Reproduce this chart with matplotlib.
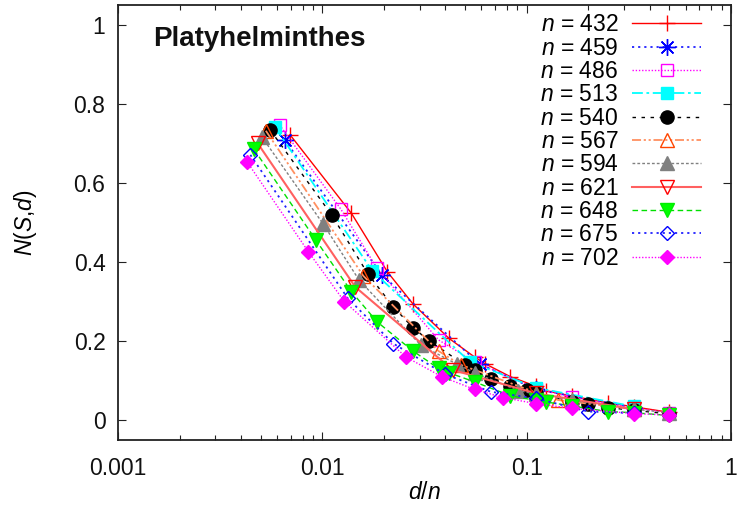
import matplotlib
matplotlib.use("Agg")
import matplotlib.pyplot as plt
from matplotlib.ticker import FixedLocator, FuncFormatter, NullFormatter, LogLocator

plt.rcParams['font.family'] = ['Liberation Sans', 'DejaVu Sans']
plt.rcParams['mathtext.fontset'] = 'custom'
plt.rcParams['mathtext.it'] = 'Liberation Sans:italic'
plt.rcParams['mathtext.rm'] = 'Liberation Sans'

# ---- data ----
n_values = [432, 459, 486, 513, 540, 567, 594, 621, 648, 675, 702]

d_432 = [3, 6, 9, 12, 18, 24, 27, 36, 48, 54, 72, 108, 144, 216]
N_432 = [0.722, 0.523, 0.375, 0.294, 0.207, 0.160, 0.143, 0.110, 0.086, 0.074, 0.061, 0.044, 0.034, 0.020]

d_459 = [3, 9, 27, 51, 153]
N_459 = [0.709, 0.367, 0.142, 0.078, 0.032]

d_486 = [3, 6, 9, 18, 27, 54, 81, 162, 243]
N_486 = [0.747, 0.533, 0.384, 0.203, 0.148, 0.080, 0.058, 0.031, 0.019]

d_513 = [3, 9, 27, 57, 171]
N_513 = [0.742, 0.378, 0.148, 0.082, 0.035]

d_540 = [3, 6, 9, 12, 15, 18, 27, 30, 36, 45, 54, 60, 90, 108, 135, 180, 270]
N_540 = [0.734, 0.519, 0.371, 0.287, 0.234, 0.201, 0.139, 0.127, 0.104, 0.086, 0.076, 0.068, 0.046, 0.040, 0.032, 0.025, 0.016]

d_567 = [3, 9, 21, 27, 63, 81, 189]
N_567 = [0.732, 0.365, 0.175, 0.140, 0.070, 0.051, 0.028]

d_594 = [3, 6, 9, 18, 27, 33, 54, 66, 99, 198, 297]
N_594 = [0.717, 0.496, 0.354, 0.190, 0.142, 0.120, 0.075, 0.066, 0.050, 0.028, 0.019]

d_621 = [3, 9, 27, 69, 207]
N_621 = [0.700, 0.337, 0.127, 0.068, 0.028]

d_648 = [3, 6, 9, 12, 18, 24, 27, 36, 54, 72, 81, 108, 162, 216, 324]
N_648 = [0.685, 0.457, 0.325, 0.249, 0.175, 0.131, 0.120, 0.097, 0.062, 0.050, 0.046, 0.036, 0.022, 0.019, 0.012]

d_675 = [3, 9, 15, 27, 45, 75, 135, 225]
N_675 = [0.671, 0.308, 0.194, 0.116, 0.072, 0.055, 0.022, 0.018]

d_702 = [3, 6, 9, 18, 27, 39, 54, 78, 117, 234, 351]
N_702 = [0.654, 0.426, 0.300, 0.160, 0.110, 0.078, 0.057, 0.042, 0.030, 0.017, 0.013]

d_lists = [d_432, d_459, d_486, d_513, d_540, d_567, d_594, d_621, d_648, d_675, d_702]
N_lists = [N_432, N_459, N_486, N_513, N_540, N_567, N_594, N_621, N_648, N_675, N_702]

title_text = "Platyhelminthes"
x_ticks = [0.001, 0.01, 0.1, 1]
y_ticks = [0, 0.2, 0.4, 0.6, 0.8, 1]

# ---- styles ----
styles = [
    dict(color='#ff0000', ls='-', lw=1.0, marker='+', ms=11, mec='#ff0000', mfc='none', mew=1.0),
    dict(color='#2020ff', ls=(0, (1.2, 2.2)), lw=1.3, marker=(8, 2, 0), ms=12, mec='#0000ff', mfc='none', mew=1.0),
    dict(color='#ff00ff', ls=(0, (1, 1.3)), lw=1.0, marker='s', ms=9, mec='#ff00ff', mfc='none', mew=1.0),
    dict(color='#00ffff', ls=(0, (6, 2, 1.5, 2)), lw=1.3, marker='s', ms=9, mec='#00ffff', mfc='#00ffff', mew=1.0),
    dict(color='#000000', ls=(0, (2.5, 4)), lw=1.0, marker='o', ms=9.5, mec='#000000', mfc='#000000', mew=1.0),
    dict(color='#ff9060', ls=(0, (5, 1.5, 1.2, 1.5, 1.2, 1.5)), lw=1.3, marker='^', ms=10, mec='#ff4500', mfc='none', mew=1.0),
    dict(color='#808080', ls=(0, (2, 1.5)), lw=1.0, marker='^', ms=10, mec='#808080', mfc='#808080', mew=1.0),
    dict(color='#ff6060', ls='-', lw=1.5, marker='v', ms=10, mec='#ff0000', mfc='none', mew=1.0),
    dict(color='#00e000', ls=(0, (4, 2.5)), lw=1.0, marker='v', ms=10, mec='#00ee00', mfc='#00ff00', mew=1.0),
    dict(color='#2020ff', ls=(0, (1.2, 2.2)), lw=1.3, marker='D', ms=7.5, mec='#0000ff', mfc='none', mew=1.0),
    dict(color='#ff00ff', ls=(0, (1, 1.3)), lw=1.0, marker='D', ms=7.5, mec='#ff00ff', mfc='#ff00ff', mew=1.0),
]

fig = plt.figure(figsize=(7.38, 5.15), dpi=100)
ax = fig.add_axes([118/738, 1 - 440/515, (731-118)/738, (440-5)/515])

for n, d, N, st in zip(n_values, d_lists, N_lists, styles):
    x = [di / n for di in d]
    ax.plot(x, N, label=r'$n$ = %d' % n, **st)

ax.set_xscale('log')
ax.set_xlim(0.001, 1)
ax.set_ylim(-0.05, 1.05)

ax.xaxis.set_major_locator(FixedLocator(x_ticks))
ax.xaxis.set_major_formatter(FuncFormatter(lambda v, p: '%g' % v))
ax.xaxis.set_minor_locator(LogLocator(base=10, subs=[2, 3, 4, 5, 6, 7, 8, 9]))
ax.xaxis.set_minor_formatter(NullFormatter())
ax.yaxis.set_major_locator(FixedLocator(y_ticks))
ax.yaxis.set_major_formatter(FuncFormatter(lambda v, p: '%g' % v))

ax.tick_params(which='both', direction='in', top=True, right=True, width=0.8, colors='#222222')
ax.tick_params(which='major', length=6, labelsize=16.5, pad=9, labelcolor='#111111')
ax.tick_params(which='minor', length=3.5)
ax.tick_params(axis='x', which='major', pad=12)
for sp in ax.spines.values():
    sp.set_linewidth(1.3)
    sp.set_color('#222222')

ax.set_xlabel(r'$d$/$n$', fontsize=16.5, labelpad=1)
ax.set_ylabel(r'$N$($S$,$d$)', fontsize=16.5, labelpad=25)

ax.text(0.058, 0.922, title_text, transform=ax.transAxes, fontsize=20,
        fontweight='bold', ha='left', va='center', color='#111111')

leg = ax.legend(loc='upper right', bbox_to_anchor=(0.951, 0.981), markerfirst=False,
                frameon=False, fontsize=16.5, handlelength=3.0, handletextpad=0.6,
                labelspacing=0.015, borderaxespad=0.0, borderpad=0.0)

fig.savefig('out.png', dpi=100)
